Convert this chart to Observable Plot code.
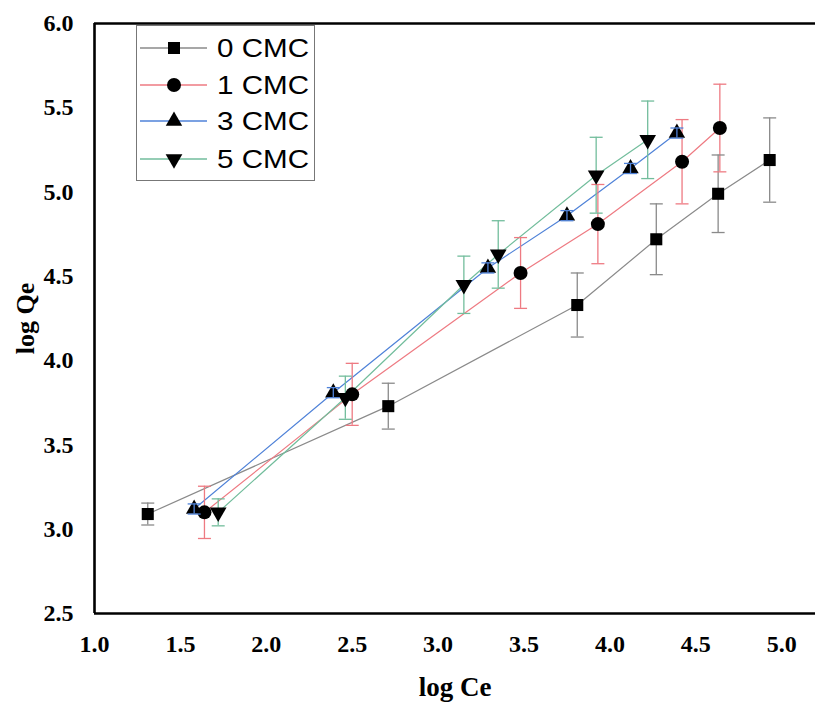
<!DOCTYPE html>
<html>
<head>
<meta charset="utf-8">
<script src="https://cdn.jsdelivr.net/npm/d3@7"></script>
<script src="https://cdn.jsdelivr.net/npm/@observablehq/plot@0.6"></script>
<style>
  html, body { margin: 0; padding: 0; background: #fff; }
  #wrap { position: relative; width: 815px; height: 707px; }
  #legend { position: absolute; left: 136px; top: 25px; width: 177px; height: 154px;
            border: 1.5px solid #777; background: #fff; }
  #legend svg { display: block; }
</style>
</head>
<body>
<div id="wrap">
  <div id="chart"></div>
  <div id="legend"></div>
</div>
<script>
// ---- data ----
const series = ["0 CMC", "1 CMC", "3 CMC", "5 CMC"];
const xTicks = [1.0, 1.5, 2.0, 2.5, 3.0, 3.5, 4.0, 4.5, 5.0];
const yTicks = [2.5, 3.0, 3.5, 4.0, 4.5, 5.0, 5.5, 6.0];

const cmc0X = [1.31, 2.71, 3.81, 4.27, 4.63, 4.93];
const cmc0Y = [3.09, 3.73, 4.33, 4.72, 4.99, 5.19];
const cmc0Err = [0.065, 0.136, 0.19, 0.21, 0.23, 0.25];

const cmc1X = [1.64, 2.50, 3.48, 3.93, 4.42, 4.64];
const cmc1Y = [3.10, 3.80, 4.52, 4.81, 5.18, 5.38];
const cmc1Err = [0.155, 0.184, 0.21, 0.235, 0.25, 0.26];

const cmc3X = [1.58, 2.39, 3.29, 3.75, 4.12, 4.39];
const cmc3Y = [3.12, 3.81, 4.55, 4.86, 5.14, 5.35];
const cmc3Err = [0.03, 0.03, 0.03, 0.03, 0.03, 0.03];

const cmc5X = [1.72, 2.46, 3.15, 3.35, 3.92, 4.22];
const cmc5Y = [3.10, 3.78, 4.45, 4.63, 5.10, 5.31];
const cmc5Err = [0.08, 0.128, 0.17, 0.20, 0.225, 0.23];

const lineColors = ["#8a8a8a", "#ee7a82", "#4f82d8", "#72bd9c"];

// ---- build table ----
const xs = [cmc0X, cmc1X, cmc3X, cmc5X];
const ys = [cmc0Y, cmc1Y, cmc3Y, cmc5Y];
const errs = [cmc0Err, cmc1Err, cmc3Err, cmc5Err];
const data = series.flatMap((s, i) => xs[i].map((x, j) => ({series: s, x, y: ys[i][j], err: errs[i][j]})));

// custom symbols
const sqrt3 = Math.sqrt(3);
const triangleDown = {
  draw(context, size) {
    const y = Math.sqrt(size / (sqrt3 * 3));
    context.moveTo(0, y * 2);
    context.lineTo(-sqrt3 * y, -y);
    context.lineTo(sqrt3 * y, -y);
    context.closePath();
  }
};
const capSymbol = {
  draw(context) { context.moveTo(-6.5, 0); context.lineTo(6.5, 0); }
};
const symbols = [d3.symbolSquare, d3.symbolCircle, d3.symbolTriangle, triangleDown];
const radii = [6.8, 7, 6.1, 6.2];

const serif = "'Liberation Serif', 'Times New Roman', serif";

const errMarks = (rows) => [
  Plot.ruleX(rows, {x: "x", y1: d => d.y - d.err, y2: d => d.y + d.err, stroke: "series", strokeWidth: 1.3}),
  Plot.dot(rows, {x: "x", y: d => d.y + d.err, symbol: capSymbol, stroke: "series", fill: "none", strokeWidth: 1.3}),
  Plot.dot(rows, {x: "x", y: d => d.y - d.err, symbol: capSymbol, stroke: "series", fill: "none", strokeWidth: 1.3})
];

const notBlue = data.filter(d => d.series !== "3 CMC");
const blue = data.filter(d => d.series === "3 CMC");

const chart = Plot.plot({
  width: 815,
  height: 707,
  marginTop: 23,
  marginBottom: 94,
  marginLeft: 94,
  marginRight: 0,
  style: {fontFamily: serif, fontWeight: "bold", color: "#000", background: "#fff", overflow: "visible"},
  x: {domain: [1, 1 + 721 / 171.8]},
  y: {domain: [2.5, 6.0]},
  color: {domain: series, range: lineColors},
  marks: [
    Plot.axisX({ticks: xTicks, tickFormat: d3.format(".1f"), tickSize: 0, tickPadding: 21, fontSize: 24, label: null}),
    Plot.axisY({ticks: yTicks, tickFormat: d3.format(".1f"), tickSize: 0, tickPadding: 21, fontSize: 24, label: null}),
    Plot.text(["log Ce"], {frameAnchor: "bottom", dy: 82, fontSize: 27, fontWeight: "bold", fontFamily: serif, text: d => d}),
    Plot.text(["log Qe"], {frameAnchor: "left", dx: -69, rotate: -90, textAnchor: "middle", fontSize: 26, fontWeight: "bold", fontFamily: serif, text: d => d}),
    Plot.line(data, {x: "x", y: "y", z: "series", stroke: "series", strokeWidth: 1.2}),
    ...errMarks(notBlue),
    ...series.map((s, i) => Plot.dot(data.filter(d => d.series === s), {x: "x", y: "y", symbol: symbols[i], r: radii[i], fill: "#000", stroke: "none"})),
    ...errMarks(blue),
    Plot.ruleY([2.5, 6.0], {stroke: "#000", strokeWidth: 2.6}),
    Plot.ruleX([1.0], {stroke: "#000", strokeWidth: 2.6})
  ]
});
document.getElementById("chart").appendChild(chart);

// ---- legend ----
const lg = d3.select("#legend").append("svg").attr("width", 177).attr("height", 154);
const rowY = [22, 59, 95, 133];
series.forEach((s, i) => {
  const g = lg.append("g").attr("transform", `translate(0,${rowY[i]})`);
  g.append("line").attr("x1", 3).attr("x2", 70).attr("y1", 0).attr("y2", 0)
    .attr("stroke", lineColors[i]).attr("stroke-width", 1.3);
  g.append("path").attr("transform", "translate(37,0)")
    .attr("d", d3.symbol(symbols[i], Math.PI * radii[i] * radii[i])())
    .attr("fill", "#000");
  g.append("text").attr("x", 80).attr("y", 0).attr("dy", "0.36em")
    .attr("font-family", "'Liberation Sans', Arial, sans-serif").attr("font-size", 25)
    .attr("textLength", 92).attr("lengthAdjust", "spacingAndGlyphs")
    .attr("fill", "#000").text(s);
});
</script>
</body>
</html>
